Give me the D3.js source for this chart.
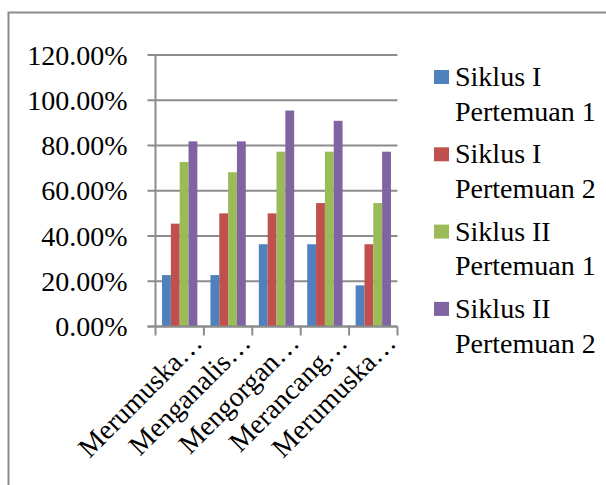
<!DOCTYPE html>
<html>
<head>
<meta charset="utf-8">
<script src="https://cdn.jsdelivr.net/npm/d3@7"></script>
<style>
  body { margin: 0; background: #fff; }
</style>
</head>
<body>
<div id="chart"></div>
<script>
// data
var categories = ["Merumuska\u2026", "Menganalis\u2026", "Mengorgan\u2026", "Merancang\u2026", "Merumuska\u2026"];
var seriesNames = ["Siklus I Pertemuan 1", "Siklus I Pertemuan 2", "Siklus II Pertemuan 1", "Siklus II Pertemuan 2"];
var s1p1 = [22.73, 22.73, 36.36, 36.36, 18.18];
var s1p2 = [45.45, 50.00, 50.00, 54.55, 36.36];
var s2p1 = [72.73, 68.18, 77.27, 77.27, 54.55];
var s2p2 = [81.82, 81.82, 95.45, 90.91, 77.27];
var yTicks = [0, 20, 40, 60, 80, 100, 120];
var colors = ["#4F81BD", "#C0504D", "#9BBB59", "#8064A2"];

var allSeries = [s1p1, s1p2, s2p1, s2p2];
var FONT = "'Liberation Serif', 'Times New Roman', 'DejaVu Serif', serif";

var W = 606, H = 485;
var svg = d3.select("#chart").append("svg")
    .attr("width", W)
    .attr("height", H)
    .attr("font-family", FONT);

// outer border (left and top visible only)
svg.append("path")
    .attr("d", "M8.5," + H + "V12.5H" + W)
    .attr("fill", "none")
    .attr("stroke", "#8c8c8c")
    .attr("stroke-width", 2);

var plotL = 155.5, plotR = 397.5, plotT = 55, plotB = 326.5;

var x0 = d3.scaleBand()
    .domain(d3.range(categories.length))
    .range([plotL, plotR])
    .paddingInner(0.27)
    .paddingOuter(0.135);

var x1 = d3.scaleBand()
    .domain(d3.range(allSeries.length))
    .range([0, x0.bandwidth()]);

var y = d3.scaleLinear()
    .domain([0, 120])
    .range([plotB, plotT]);

// grid lines
svg.append("g")
    .selectAll("line")
    .data(yTicks)
    .join("line")
    .attr("x1", plotL - 8)
    .attr("x2", plotR)
    .attr("y1", function(d) { return y(d); })
    .attr("y2", function(d) { return y(d); })
    .attr("stroke", "#8c8c8c")
    .attr("stroke-width", 2);

// y labels
svg.append("g")
    .selectAll("text")
    .data(yTicks)
    .join("text")
    .attr("x", plotL - 28)
    .attr("y", function(d) { return y(d); })
    .attr("dy", "0.34em")
    .attr("text-anchor", "end")
    .attr("font-size", 28)
    .text(function(d) { return d.toFixed(2) + "%"; });

// bars
var groups = svg.append("g")
    .selectAll("g")
    .data(categories)
    .join("g")
    .attr("transform", function(d, i) { return "translate(" + x0(i) + ",0)"; });

groups.selectAll("rect")
    .data(function(d, i) { return allSeries.map(function(s, k) { return {k: k, v: s[i]}; }); })
    .join("rect")
    .attr("x", function(d) { return x1(d.k); })
    .attr("width", x1.bandwidth())
    .attr("y", function(d) { return y(d.v); })
    .attr("height", function(d) { return plotB - y(d.v); })
    .attr("fill", function(d) { return colors[d.k]; });

// axis lines
svg.append("line")
    .attr("x1", plotL).attr("x2", plotL)
    .attr("y1", plotT).attr("y2", plotB)
    .attr("stroke", "#8c8c8c").attr("stroke-width", 2);

svg.append("line")
    .attr("x1", plotL - 8).attr("x2", plotR)
    .attr("y1", plotB).attr("y2", plotB)
    .attr("stroke", "#8c8c8c").attr("stroke-width", 2);

var step = (plotR - plotL) / categories.length;
svg.append("g")
    .selectAll("line")
    .data(d3.range(categories.length + 1))
    .join("line")
    .attr("x1", function(d) { return plotL + d * step; })
    .attr("x2", function(d) { return plotL + d * step; })
    .attr("y1", plotB)
    .attr("y2", plotB + 9)
    .attr("stroke", "#8c8c8c").attr("stroke-width", 2);

// x labels, rotated
svg.append("g")
    .selectAll("text")
    .data(categories)
    .join("text")
    .attr("text-anchor", "end")
    .attr("transform", function(d, i) {
        return "translate(" + (plotL + (i + 1) * step) + "," + (plotB + 18) + ") rotate(-45)";
    })
    .attr("font-size", 28)
    .text(function(d) { return d; });

// legend
var legend = svg.append("g")
    .selectAll("g")
    .data(seriesNames)
    .join("g")
    .attr("transform", function(d, i) { return "translate(434," + (86 + i * 77.3) + ")"; });

legend.append("rect")
    .attr("x", 0).attr("y", -16)
    .attr("width", 15).attr("height", 14)
    .attr("fill", function(d, i) { return colors[i]; });

legend.append("text")
    .attr("font-size", 28)
    .each(function(d) {
        var parts = d.split(" Pertemuan ");
        var t = d3.select(this);
        t.append("tspan").attr("x", 21).attr("y", 0).text(parts[0]);
        t.append("tspan").attr("x", 21).attr("y", 34.7).text("Pertemuan " + parts[1]);
    });
</script>
</body>
</html>
